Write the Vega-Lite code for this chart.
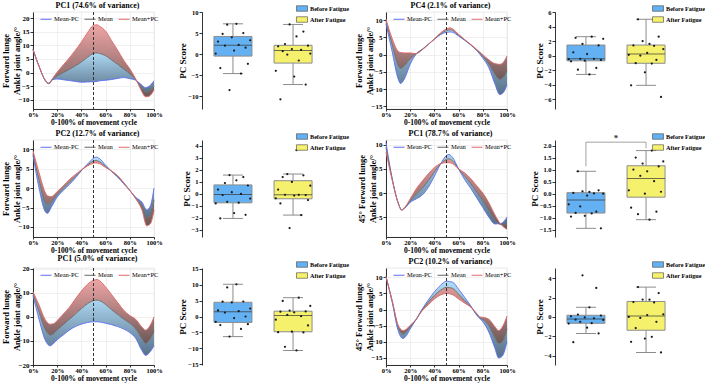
{
  "$schema": "https://vega.github.io/schema/vega-lite/v6.json",
  "background": "white",
  "padding": {"left": 0, "top": 1, "right": 0, "bottom": 0},
  "config": {
    "font": "Liberation Serif",
    "view": {"stroke": null},
    "title": {"font": "Liberation Serif", "fontSize": 8, "fontWeight": "bold", "color": "#000", "offset": 2, "dx": 4},
    "axis": {
      "labelFont": "Liberation Serif", "titleFont": "Liberation Serif",
      "labelFontWeight": "bold", "titleFontWeight": "bold",
      "labelFontSize": 7, "labelColor": "#000", "titleColor": "#000",
      "domainColor": "#000", "domainWidth": 0.8, "tickColor": "#000", "tickWidth": 0.8,
      "tickSize": 3, "labelPadding": 1, "labelOverlap": false, "labelFlush": false
    },
    "axisX": {"tickSize": 2, "labelPadding": 0, "titlePadding": 1, "labelFontSize": 6.5}
  },
  "datasets": {
    "A": [
      {"x": 0, "Mean-PC": 8.5, "Mean": 8.5, "Mean+PC": 8.5},
      {"x": 5, "Mean-PC": 2.3, "Mean": 2.3, "Mean+PC": 2.3},
      {"x": 10, "Mean-PC": -2.8, "Mean": -2.8, "Mean+PC": -2.6},
      {"x": 13, "Mean-PC": -4.0, "Mean": -4.0, "Mean+PC": -3.8},
      {"x": 16, "Mean-PC": -2.6, "Mean": -2.6, "Mean+PC": -2.2},
      {"x": 20, "Mean-PC": -2.3, "Mean": -1.2, "Mean+PC": 0.2},
      {"x": 25, "Mean-PC": -2.6, "Mean": 0.0, "Mean+PC": 2.8},
      {"x": 30, "Mean-PC": -2.9, "Mean": 1.2, "Mean+PC": 5.4},
      {"x": 35, "Mean-PC": -3.2, "Mean": 2.5, "Mean+PC": 8.2},
      {"x": 40, "Mean-PC": -3.5, "Mean": 3.9, "Mean+PC": 11.2},
      {"x": 45, "Mean-PC": -3.4, "Mean": 5.6, "Mean+PC": 14.6},
      {"x": 50, "Mean-PC": -3.3, "Mean": 7.0, "Mean+PC": 17.3},
      {"x": 53, "Mean-PC": -3.2, "Mean": 7.2, "Mean+PC": 17.5},
      {"x": 55, "Mean-PC": -3.0, "Mean": 7.0, "Mean+PC": 17.0},
      {"x": 60, "Mean-PC": -2.8, "Mean": 6.2, "Mean+PC": 15.2},
      {"x": 65, "Mean-PC": -2.5, "Mean": 4.6, "Mean+PC": 11.7},
      {"x": 70, "Mean-PC": -2.1, "Mean": 3.0, "Mean+PC": 8.2},
      {"x": 75, "Mean-PC": -1.8, "Mean": 1.3, "Mean+PC": 4.5},
      {"x": 80, "Mean-PC": -2.2, "Mean": -0.4, "Mean+PC": 1.4},
      {"x": 85, "Mean-PC": -2.8, "Mean": -2.6, "Mean+PC": -2.4},
      {"x": 88, "Mean-PC": -3.8, "Mean": -4.5, "Mean+PC": -5.2},
      {"x": 90, "Mean-PC": -4.6, "Mean": -5.8, "Mean+PC": -7.0},
      {"x": 93, "Mean-PC": -5.5, "Mean": -7.1, "Mean+PC": -8.8},
      {"x": 96, "Mean-PC": -5.0, "Mean": -6.8, "Mean+PC": -8.6},
      {"x": 100, "Mean-PC": -3.0, "Mean": -5.0, "Mean+PC": -6.3}
    ],
    "B": [
      {"x": 0, "Mean-PC": 9.0, "Mean": 9.8, "Mean+PC": 10.3},
      {"x": 5, "Mean-PC": 1.0, "Mean": 3.0, "Mean+PC": 4.8},
      {"x": 10, "Mean-PC": -7.0, "Mean": -3.0, "Mean+PC": 1.0},
      {"x": 12, "Mean-PC": -8.4, "Mean": -4.0, "Mean+PC": 0.6},
      {"x": 15, "Mean-PC": -7.2, "Mean": -3.3, "Mean+PC": 0.5},
      {"x": 20, "Mean-PC": -2.8, "Mean": -1.2, "Mean+PC": 0.5},
      {"x": 25, "Mean-PC": 0.2, "Mean": 0.3, "Mean+PC": 0.3},
      {"x": 30, "Mean-PC": 1.6, "Mean": 1.5, "Mean+PC": 1.4},
      {"x": 35, "Mean-PC": 3.0, "Mean": 3.0, "Mean+PC": 3.0},
      {"x": 40, "Mean-PC": 4.5, "Mean": 4.5, "Mean+PC": 4.6},
      {"x": 45, "Mean-PC": 5.8, "Mean": 6.0, "Mean+PC": 6.3},
      {"x": 50, "Mean-PC": 6.5, "Mean": 7.0, "Mean+PC": 7.5},
      {"x": 53, "Mean-PC": 6.6, "Mean": 7.2, "Mean+PC": 7.8},
      {"x": 55, "Mean-PC": 6.5, "Mean": 7.0, "Mean+PC": 7.5},
      {"x": 60, "Mean-PC": 5.4, "Mean": 5.6, "Mean+PC": 5.9},
      {"x": 65, "Mean-PC": 4.2, "Mean": 4.3, "Mean+PC": 4.4},
      {"x": 70, "Mean-PC": 2.8, "Mean": 2.9, "Mean+PC": 3.0},
      {"x": 75, "Mean-PC": 1.2, "Mean": 1.3, "Mean+PC": 1.5},
      {"x": 80, "Mean-PC": -1.0, "Mean": -0.5, "Mean+PC": 0.0},
      {"x": 85, "Mean-PC": -3.8, "Mean": -2.7, "Mean+PC": -1.5},
      {"x": 90, "Mean-PC": -8.5, "Mean": -5.6, "Mean+PC": -2.6},
      {"x": 94, "Mean-PC": -11.6, "Mean": -7.2, "Mean+PC": -2.8},
      {"x": 97, "Mean-PC": -11.0, "Mean": -6.6, "Mean+PC": -2.2},
      {"x": 100, "Mean-PC": -8.8, "Mean": -4.6, "Mean+PC": -0.4}
    ],
    "C": [
      {"x": 0, "Mean-PC": 8.5, "Mean": 9.0, "Mean+PC": 9.6},
      {"x": 5, "Mean-PC": 0.0, "Mean": 2.0, "Mean+PC": 4.0},
      {"x": 10, "Mean-PC": -6.0, "Mean": -3.5, "Mean+PC": -1.0},
      {"x": 12, "Mean-PC": -6.5, "Mean": -4.2, "Mean+PC": -2.0},
      {"x": 15, "Mean-PC": -5.0, "Mean": -3.6, "Mean+PC": -2.2},
      {"x": 20, "Mean-PC": -2.3, "Mean": -1.6, "Mean+PC": -0.9},
      {"x": 25, "Mean-PC": -0.6, "Mean": 0.0, "Mean+PC": 0.6},
      {"x": 30, "Mean-PC": 0.9, "Mean": 1.5, "Mean+PC": 2.2},
      {"x": 35, "Mean-PC": 2.6, "Mean": 3.0, "Mean+PC": 3.5},
      {"x": 40, "Mean-PC": 4.5, "Mean": 4.6, "Mean+PC": 4.7},
      {"x": 45, "Mean-PC": 6.2, "Mean": 5.9, "Mean+PC": 5.7},
      {"x": 50, "Mean-PC": 7.7, "Mean": 7.0, "Mean+PC": 6.4},
      {"x": 52, "Mean-PC": 8.0, "Mean": 7.1, "Mean+PC": 6.5},
      {"x": 55, "Mean-PC": 7.6, "Mean": 6.8, "Mean+PC": 6.3},
      {"x": 60, "Mean-PC": 5.9, "Mean": 5.6, "Mean+PC": 5.3},
      {"x": 65, "Mean-PC": 4.3, "Mean": 4.3, "Mean+PC": 4.4},
      {"x": 70, "Mean-PC": 2.8, "Mean": 3.0, "Mean+PC": 3.2},
      {"x": 75, "Mean-PC": 1.1, "Mean": 1.3, "Mean+PC": 1.4},
      {"x": 80, "Mean-PC": -0.6, "Mean": -0.6, "Mean+PC": -0.6},
      {"x": 85, "Mean-PC": -2.4, "Mean": -2.6, "Mean+PC": -2.8},
      {"x": 90, "Mean-PC": -3.6, "Mean": -4.6, "Mean+PC": -5.6},
      {"x": 94, "Mean-PC": -5.6, "Mean": -7.6, "Mean+PC": -9.7},
      {"x": 97, "Mean-PC": -4.6, "Mean": -7.0, "Mean+PC": -9.2},
      {"x": 100, "Mean-PC": 0.0, "Mean": -3.0, "Mean+PC": -5.8}
    ],
    "D": [
      {"x": 0, "Mean-PC": 10.5, "Mean": 9.5, "Mean+PC": 8.5},
      {"x": 5, "Mean-PC": 3.2, "Mean": 3.0, "Mean+PC": 2.8},
      {"x": 10, "Mean-PC": -2.0, "Mean": -2.0, "Mean+PC": -2.0},
      {"x": 13, "Mean-PC": -3.5, "Mean": -3.5, "Mean+PC": -3.5},
      {"x": 16, "Mean-PC": -3.0, "Mean": -2.9, "Mean+PC": -2.8},
      {"x": 20, "Mean-PC": -1.9, "Mean": -1.6, "Mean+PC": -1.2},
      {"x": 25, "Mean-PC": -1.2, "Mean": -0.2, "Mean+PC": 0.9},
      {"x": 30, "Mean-PC": -0.4, "Mean": 1.0, "Mean+PC": 2.5},
      {"x": 35, "Mean-PC": 1.2, "Mean": 2.6, "Mean+PC": 4.0},
      {"x": 40, "Mean-PC": 3.5, "Mean": 4.4, "Mean+PC": 5.3},
      {"x": 45, "Mean-PC": 6.0, "Mean": 6.0, "Mean+PC": 6.1},
      {"x": 50, "Mean-PC": 7.8, "Mean": 7.0, "Mean+PC": 6.3},
      {"x": 52, "Mean-PC": 8.0, "Mean": 7.1, "Mean+PC": 6.3},
      {"x": 55, "Mean-PC": 7.4, "Mean": 6.7, "Mean+PC": 6.1},
      {"x": 60, "Mean-PC": 5.0, "Mean": 5.0, "Mean+PC": 5.0},
      {"x": 65, "Mean-PC": 2.8, "Mean": 3.5, "Mean+PC": 4.2},
      {"x": 70, "Mean-PC": 1.0, "Mean": 2.0, "Mean+PC": 3.0},
      {"x": 75, "Mean-PC": -1.0, "Mean": 0.2, "Mean+PC": 1.5},
      {"x": 80, "Mean-PC": -3.0, "Mean": -1.5, "Mean+PC": 0.0},
      {"x": 85, "Mean-PC": -5.0, "Mean": -3.5, "Mean+PC": -2.0},
      {"x": 90, "Mean-PC": -6.4, "Mean": -5.5, "Mean+PC": -4.5},
      {"x": 95, "Mean-PC": -6.3, "Mean": -6.5, "Mean+PC": -6.5},
      {"x": 100, "Mean-PC": -5.0, "Mean": -6.5, "Mean+PC": -7.5}
    ],
    "E": [
      {"x": 0, "Mean-PC": 9.0, "Mean": 10.0, "Mean+PC": 10.5},
      {"x": 5, "Mean-PC": -1.0, "Mean": 2.0, "Mean+PC": 5.0},
      {"x": 10, "Mean-PC": -9.5, "Mean": -5.0, "Mean+PC": -1.0},
      {"x": 14, "Mean-PC": -12.0, "Mean": -7.5, "Mean+PC": -3.0},
      {"x": 17, "Mean-PC": -11.0, "Mean": -7.0, "Mean+PC": -2.8},
      {"x": 20, "Mean-PC": -9.5, "Mean": -5.5, "Mean+PC": -1.5},
      {"x": 25, "Mean-PC": -7.5, "Mean": -3.2, "Mean+PC": 1.2},
      {"x": 30, "Mean-PC": -5.5, "Mean": -1.0, "Mean+PC": 4.0},
      {"x": 35, "Mean-PC": -4.0, "Mean": 1.2, "Mean+PC": 7.5},
      {"x": 40, "Mean-PC": -3.0, "Mean": 3.5, "Mean+PC": 10.8},
      {"x": 45, "Mean-PC": -2.3, "Mean": 5.5, "Mean+PC": 13.6},
      {"x": 50, "Mean-PC": -2.0, "Mean": 6.8, "Mean+PC": 15.3},
      {"x": 53, "Mean-PC": -2.0, "Mean": 7.0, "Mean+PC": 15.6},
      {"x": 55, "Mean-PC": -2.1, "Mean": 6.8, "Mean+PC": 15.1},
      {"x": 60, "Mean-PC": -2.6, "Mean": 5.2, "Mean+PC": 12.5},
      {"x": 65, "Mean-PC": -3.2, "Mean": 3.0, "Mean+PC": 9.3},
      {"x": 70, "Mean-PC": -4.0, "Mean": 1.0, "Mean+PC": 6.0},
      {"x": 75, "Mean-PC": -5.0, "Mean": -0.9, "Mean+PC": 2.8},
      {"x": 80, "Mean-PC": -6.5, "Mean": -2.6, "Mean+PC": 0.6},
      {"x": 85, "Mean-PC": -9.0, "Mean": -5.0, "Mean+PC": -1.0},
      {"x": 90, "Mean-PC": -14.0, "Mean": -9.0, "Mean+PC": -4.2},
      {"x": 93, "Mean-PC": -16.0, "Mean": -11.0, "Mean+PC": -5.5},
      {"x": 96, "Mean-PC": -15.0, "Mean": -9.8, "Mean+PC": -4.2},
      {"x": 100, "Mean-PC": -12.0, "Mean": -6.0, "Mean+PC": 0.0}
    ],
    "F": [
      {"x": 0, "Mean-PC": 10.2, "Mean": 10.2, "Mean+PC": 10.2},
      {"x": 5, "Mean-PC": 2.5, "Mean": 2.8, "Mean+PC": 3.0},
      {"x": 10, "Mean-PC": -6.5, "Mean": -5.3, "Mean+PC": -4.8},
      {"x": 14, "Mean-PC": -9.0, "Mean": -7.6, "Mean+PC": -6.5},
      {"x": 17, "Mean-PC": -8.0, "Mean": -6.8, "Mean+PC": -6.0},
      {"x": 20, "Mean-PC": -6.0, "Mean": -5.4, "Mean+PC": -4.9},
      {"x": 25, "Mean-PC": -3.0, "Mean": -3.0, "Mean+PC": -3.0},
      {"x": 30, "Mean-PC": 0.2, "Mean": 0.0, "Mean+PC": -0.3},
      {"x": 35, "Mean-PC": 3.0, "Mean": 2.3, "Mean+PC": 1.5},
      {"x": 40, "Mean-PC": 5.5, "Mean": 4.4, "Mean+PC": 3.3},
      {"x": 45, "Mean-PC": 7.5, "Mean": 6.0, "Mean+PC": 4.5},
      {"x": 50, "Mean-PC": 8.8, "Mean": 6.9, "Mean+PC": 5.0},
      {"x": 55, "Mean-PC": 8.5, "Mean": 6.6, "Mean+PC": 4.6},
      {"x": 60, "Mean-PC": 6.3, "Mean": 4.8, "Mean+PC": 3.3},
      {"x": 65, "Mean-PC": 3.8, "Mean": 2.8, "Mean+PC": 2.0},
      {"x": 70, "Mean-PC": 1.2, "Mean": 1.0, "Mean+PC": 0.8},
      {"x": 75, "Mean-PC": -1.8, "Mean": -1.5, "Mean+PC": -1.2},
      {"x": 78, "Mean-PC": -3.0, "Mean": -2.6, "Mean+PC": -2.3},
      {"x": 80, "Mean-PC": -3.8, "Mean": -3.1, "Mean+PC": -2.4},
      {"x": 85, "Mean-PC": -7.0, "Mean": -5.0, "Mean+PC": -3.0},
      {"x": 90, "Mean-PC": -12.0, "Mean": -8.7, "Mean+PC": -5.3},
      {"x": 93, "Mean-PC": -15.0, "Mean": -10.6, "Mean+PC": -6.5},
      {"x": 96, "Mean-PC": -14.5, "Mean": -10.0, "Mean+PC": -5.5},
      {"x": 100, "Mean-PC": -10.0, "Mean": -6.0, "Mean+PC": -2.0}
    ],
    "scores": [
      {"p": "b1", "g": "Before Fatigue", "s": "07", "v": -8.5},
      {"p": "b1", "g": "Before Fatigue", "s": "12", "v": -4.6},
      {"p": "b1", "g": "Before Fatigue", "s": "03", "v": -3.3},
      {"p": "b1", "g": "Before Fatigue", "s": "15", "v": -2.3},
      {"p": "b1", "g": "Before Fatigue", "s": "01", "v": 0.15},
      {"p": "b1", "g": "Before Fatigue", "s": "09", "v": 0.85},
      {"p": "b1", "g": "Before Fatigue", "s": "14", "v": 1.55},
      {"p": "b1", "g": "Before Fatigue", "s": "05", "v": 2.0},
      {"p": "b1", "g": "Before Fatigue", "s": "11", "v": 2.2},
      {"p": "b1", "g": "Before Fatigue", "s": "02", "v": 3.0},
      {"p": "b1", "g": "Before Fatigue", "s": "16", "v": 3.3},
      {"p": "b1", "g": "Before Fatigue", "s": "08", "v": 4.0},
      {"p": "b1", "g": "Before Fatigue", "s": "04", "v": 4.8},
      {"p": "b1", "g": "Before Fatigue", "s": "13", "v": 5.0},
      {"p": "b1", "g": "Before Fatigue", "s": "06", "v": 7.0},
      {"p": "b1", "g": "Before Fatigue", "s": "10", "v": 7.2},
      {"p": "b1", "g": "After Fatigue", "s": "03", "v": -10.7},
      {"p": "b1", "g": "After Fatigue", "s": "14", "v": -7.2},
      {"p": "b1", "g": "After Fatigue", "s": "09", "v": -5.3},
      {"p": "b1", "g": "After Fatigue", "s": "01", "v": -3.95},
      {"p": "b1", "g": "After Fatigue", "s": "11", "v": -1.5},
      {"p": "b1", "g": "After Fatigue", "s": "06", "v": -0.1},
      {"p": "b1", "g": "After Fatigue", "s": "16", "v": 0.15},
      {"p": "b1", "g": "After Fatigue", "s": "04", "v": 0.7},
      {"p": "b1", "g": "After Fatigue", "s": "12", "v": 1.0},
      {"p": "b1", "g": "After Fatigue", "s": "08", "v": 1.2},
      {"p": "b1", "g": "After Fatigue", "s": "02", "v": 1.85},
      {"p": "b1", "g": "After Fatigue", "s": "15", "v": 2.0},
      {"p": "b1", "g": "After Fatigue", "s": "05", "v": 2.4},
      {"p": "b1", "g": "After Fatigue", "s": "10", "v": 4.2},
      {"p": "b1", "g": "After Fatigue", "s": "13", "v": 5.35},
      {"p": "b1", "g": "After Fatigue", "s": "07", "v": 7.05},
      {"p": "b2", "g": "Before Fatigue", "s": "10", "v": -2.6},
      {"p": "b2", "g": "Before Fatigue", "s": "05", "v": -1.95},
      {"p": "b2", "g": "Before Fatigue", "s": "13", "v": -1.7},
      {"p": "b2", "g": "Before Fatigue", "s": "02", "v": -0.8},
      {"p": "b2", "g": "Before Fatigue", "s": "08", "v": -0.7},
      {"p": "b2", "g": "Before Fatigue", "s": "15", "v": -0.6},
      {"p": "b2", "g": "Before Fatigue", "s": "01", "v": -0.5},
      {"p": "b2", "g": "Before Fatigue", "s": "12", "v": -0.45},
      {"p": "b2", "g": "Before Fatigue", "s": "06", "v": -0.45},
      {"p": "b2", "g": "Before Fatigue", "s": "09", "v": 0.2},
      {"p": "b2", "g": "Before Fatigue", "s": "03", "v": 0.45},
      {"p": "b2", "g": "Before Fatigue", "s": "14", "v": 1.4},
      {"p": "b2", "g": "Before Fatigue", "s": "07", "v": 1.6},
      {"p": "b2", "g": "Before Fatigue", "s": "16", "v": 2.3},
      {"p": "b2", "g": "Before Fatigue", "s": "04", "v": 2.45},
      {"p": "b2", "g": "Before Fatigue", "s": "11", "v": 2.6},
      {"p": "b2", "g": "After Fatigue", "s": "15", "v": -5.7},
      {"p": "b2", "g": "After Fatigue", "s": "02", "v": -4.1},
      {"p": "b2", "g": "After Fatigue", "s": "08", "v": -2.3},
      {"p": "b2", "g": "After Fatigue", "s": "11", "v": -1.1},
      {"p": "b2", "g": "After Fatigue", "s": "04", "v": -1.05},
      {"p": "b2", "g": "After Fatigue", "s": "13", "v": -0.6},
      {"p": "b2", "g": "After Fatigue", "s": "06", "v": 0.0},
      {"p": "b2", "g": "After Fatigue", "s": "01", "v": 0.1},
      {"p": "b2", "g": "After Fatigue", "s": "09", "v": 0.36},
      {"p": "b2", "g": "After Fatigue", "s": "16", "v": 0.9},
      {"p": "b2", "g": "After Fatigue", "s": "12", "v": 1.35},
      {"p": "b2", "g": "After Fatigue", "s": "03", "v": 1.4},
      {"p": "b2", "g": "After Fatigue", "s": "10", "v": 1.6},
      {"p": "b2", "g": "After Fatigue", "s": "07", "v": 2.0},
      {"p": "b2", "g": "After Fatigue", "s": "14", "v": 2.6},
      {"p": "b2", "g": "After Fatigue", "s": "05", "v": 5.0},
      {"p": "b3", "g": "Before Fatigue", "s": "03", "v": -2.05},
      {"p": "b3", "g": "Before Fatigue", "s": "14", "v": -1.75},
      {"p": "b3", "g": "Before Fatigue", "s": "09", "v": -1.6},
      {"p": "b3", "g": "Before Fatigue", "s": "01", "v": -0.8},
      {"p": "b3", "g": "Before Fatigue", "s": "11", "v": -0.73},
      {"p": "b3", "g": "Before Fatigue", "s": "06", "v": -0.66},
      {"p": "b3", "g": "Before Fatigue", "s": "16", "v": -0.39},
      {"p": "b3", "g": "Before Fatigue", "s": "04", "v": -0.1},
      {"p": "b3", "g": "Before Fatigue", "s": "12", "v": 0.0},
      {"p": "b3", "g": "Before Fatigue", "s": "08", "v": 0.14},
      {"p": "b3", "g": "Before Fatigue", "s": "02", "v": 0.36},
      {"p": "b3", "g": "Before Fatigue", "s": "15", "v": 0.7},
      {"p": "b3", "g": "Before Fatigue", "s": "05", "v": 0.9},
      {"p": "b3", "g": "Before Fatigue", "s": "10", "v": 1.13},
      {"p": "b3", "g": "Before Fatigue", "s": "13", "v": 1.4},
      {"p": "b3", "g": "Before Fatigue", "s": "07", "v": 1.57},
      {"p": "b3", "g": "After Fatigue", "s": "07", "v": -2.85},
      {"p": "b3", "g": "After Fatigue", "s": "12", "v": -1.77},
      {"p": "b3", "g": "After Fatigue", "s": "03", "v": -0.8},
      {"p": "b3", "g": "After Fatigue", "s": "15", "v": -0.52},
      {"p": "b3", "g": "After Fatigue", "s": "01", "v": -0.37},
      {"p": "b3", "g": "After Fatigue", "s": "09", "v": -0.14},
      {"p": "b3", "g": "After Fatigue", "s": "14", "v": -0.1},
      {"p": "b3", "g": "After Fatigue", "s": "05", "v": -0.08},
      {"p": "b3", "g": "After Fatigue", "s": "11", "v": -0.08},
      {"p": "b3", "g": "After Fatigue", "s": "02", "v": 0.36},
      {"p": "b3", "g": "After Fatigue", "s": "16", "v": 0.69},
      {"p": "b3", "g": "After Fatigue", "s": "08", "v": 1.0},
      {"p": "b3", "g": "After Fatigue", "s": "04", "v": 1.4},
      {"p": "b3", "g": "After Fatigue", "s": "13", "v": 1.55},
      {"p": "b3", "g": "After Fatigue", "s": "06", "v": 1.66},
      {"p": "b3", "g": "After Fatigue", "s": "10", "v": 3.65},
      {"p": "b4", "g": "Before Fatigue", "s": "15", "v": -1.44},
      {"p": "b4", "g": "Before Fatigue", "s": "02", "v": -0.95},
      {"p": "b4", "g": "Before Fatigue", "s": "08", "v": -0.92},
      {"p": "b4", "g": "Before Fatigue", "s": "11", "v": -0.82},
      {"p": "b4", "g": "Before Fatigue", "s": "04", "v": -0.8},
      {"p": "b4", "g": "Before Fatigue", "s": "13", "v": -0.75},
      {"p": "b4", "g": "Before Fatigue", "s": "06", "v": -0.53},
      {"p": "b4", "g": "Before Fatigue", "s": "01", "v": -0.44},
      {"p": "b4", "g": "Before Fatigue", "s": "09", "v": -0.08},
      {"p": "b4", "g": "Before Fatigue", "s": "16", "v": 0.0},
      {"p": "b4", "g": "Before Fatigue", "s": "12", "v": 0.01},
      {"p": "b4", "g": "Before Fatigue", "s": "03", "v": 0.03},
      {"p": "b4", "g": "Before Fatigue", "s": "10", "v": 0.07},
      {"p": "b4", "g": "Before Fatigue", "s": "07", "v": 0.1},
      {"p": "b4", "g": "Before Fatigue", "s": "14", "v": 0.14},
      {"p": "b4", "g": "Before Fatigue", "s": "05", "v": 0.93},
      {"p": "b4", "g": "After Fatigue", "s": "10", "v": -1.08},
      {"p": "b4", "g": "After Fatigue", "s": "05", "v": -0.85},
      {"p": "b4", "g": "After Fatigue", "s": "13", "v": -0.75},
      {"p": "b4", "g": "After Fatigue", "s": "02", "v": -0.58},
      {"p": "b4", "g": "After Fatigue", "s": "08", "v": 0.0},
      {"p": "b4", "g": "After Fatigue", "s": "15", "v": 0.08},
      {"p": "b4", "g": "After Fatigue", "s": "01", "v": 0.14},
      {"p": "b4", "g": "After Fatigue", "s": "12", "v": 0.52},
      {"p": "b4", "g": "After Fatigue", "s": "06", "v": 0.74},
      {"p": "b4", "g": "After Fatigue", "s": "09", "v": 0.93},
      {"p": "b4", "g": "After Fatigue", "s": "03", "v": 1.0},
      {"p": "b4", "g": "After Fatigue", "s": "14", "v": 1.13},
      {"p": "b4", "g": "After Fatigue", "s": "07", "v": 1.25},
      {"p": "b4", "g": "After Fatigue", "s": "16", "v": 1.34},
      {"p": "b4", "g": "After Fatigue", "s": "04", "v": 1.5},
      {"p": "b4", "g": "After Fatigue", "s": "11", "v": 1.79},
      {"p": "b5", "g": "Before Fatigue", "s": "07", "v": -6.3},
      {"p": "b5", "g": "Before Fatigue", "s": "12", "v": -3.9},
      {"p": "b5", "g": "Before Fatigue", "s": "03", "v": -2.7},
      {"p": "b5", "g": "Before Fatigue", "s": "15", "v": -2.4},
      {"p": "b5", "g": "Before Fatigue", "s": "01", "v": -1.68},
      {"p": "b5", "g": "Before Fatigue", "s": "09", "v": -0.5},
      {"p": "b5", "g": "Before Fatigue", "s": "14", "v": 0.0},
      {"p": "b5", "g": "Before Fatigue", "s": "05", "v": 1.24},
      {"p": "b5", "g": "Before Fatigue", "s": "11", "v": 1.66},
      {"p": "b5", "g": "Before Fatigue", "s": "02", "v": 1.9},
      {"p": "b5", "g": "Before Fatigue", "s": "16", "v": 2.5},
      {"p": "b5", "g": "Before Fatigue", "s": "08", "v": 4.4},
      {"p": "b5", "g": "Before Fatigue", "s": "04", "v": 4.65},
      {"p": "b5", "g": "Before Fatigue", "s": "13", "v": 4.7},
      {"p": "b5", "g": "Before Fatigue", "s": "06", "v": 9.1},
      {"p": "b5", "g": "Before Fatigue", "s": "10", "v": 10.1},
      {"p": "b5", "g": "After Fatigue", "s": "10", "v": -10.65},
      {"p": "b5", "g": "After Fatigue", "s": "05", "v": -9.5},
      {"p": "b5", "g": "After Fatigue", "s": "13", "v": -5.0},
      {"p": "b5", "g": "After Fatigue", "s": "02", "v": -4.9},
      {"p": "b5", "g": "After Fatigue", "s": "08", "v": -4.75},
      {"p": "b5", "g": "After Fatigue", "s": "15", "v": -2.8},
      {"p": "b5", "g": "After Fatigue", "s": "01", "v": -1.0},
      {"p": "b5", "g": "After Fatigue", "s": "12", "v": 0.1},
      {"p": "b5", "g": "After Fatigue", "s": "06", "v": 0.5},
      {"p": "b5", "g": "After Fatigue", "s": "09", "v": 1.3},
      {"p": "b5", "g": "After Fatigue", "s": "03", "v": 1.5},
      {"p": "b5", "g": "After Fatigue", "s": "14", "v": 1.6},
      {"p": "b5", "g": "After Fatigue", "s": "07", "v": 1.85},
      {"p": "b5", "g": "After Fatigue", "s": "16", "v": 3.3},
      {"p": "b5", "g": "After Fatigue", "s": "04", "v": 4.86},
      {"p": "b5", "g": "After Fatigue", "s": "11", "v": 5.9},
      {"p": "b6", "g": "Before Fatigue", "s": "03", "v": -2.6},
      {"p": "b6", "g": "Before Fatigue", "s": "14", "v": -1.7},
      {"p": "b6", "g": "Before Fatigue", "s": "09", "v": -1.1},
      {"p": "b6", "g": "Before Fatigue", "s": "01", "v": -0.68},
      {"p": "b6", "g": "Before Fatigue", "s": "11", "v": -0.64},
      {"p": "b6", "g": "Before Fatigue", "s": "06", "v": -0.5},
      {"p": "b6", "g": "Before Fatigue", "s": "16", "v": -0.3},
      {"p": "b6", "g": "Before Fatigue", "s": "04", "v": -0.27},
      {"p": "b6", "g": "Before Fatigue", "s": "12", "v": -0.13},
      {"p": "b6", "g": "Before Fatigue", "s": "08", "v": -0.05},
      {"p": "b6", "g": "Before Fatigue", "s": "02", "v": 0.07},
      {"p": "b6", "g": "Before Fatigue", "s": "15", "v": 0.15},
      {"p": "b6", "g": "Before Fatigue", "s": "05", "v": 0.25},
      {"p": "b6", "g": "Before Fatigue", "s": "10", "v": 1.0},
      {"p": "b6", "g": "Before Fatigue", "s": "13", "v": 3.0},
      {"p": "b6", "g": "Before Fatigue", "s": "07", "v": 4.3},
      {"p": "b6", "g": "After Fatigue", "s": "15", "v": -3.66},
      {"p": "b6", "g": "After Fatigue", "s": "02", "v": -2.56},
      {"p": "b6", "g": "After Fatigue", "s": "08", "v": -2.22},
      {"p": "b6", "g": "After Fatigue", "s": "11", "v": -2.05},
      {"p": "b6", "g": "After Fatigue", "s": "04", "v": -1.14},
      {"p": "b6", "g": "After Fatigue", "s": "13", "v": -0.5},
      {"p": "b6", "g": "After Fatigue", "s": "06", "v": -0.1},
      {"p": "b6", "g": "After Fatigue", "s": "01", "v": 0.0},
      {"p": "b6", "g": "After Fatigue", "s": "09", "v": 0.2},
      {"p": "b6", "g": "After Fatigue", "s": "16", "v": 0.27},
      {"p": "b6", "g": "After Fatigue", "s": "12", "v": 1.5},
      {"p": "b6", "g": "After Fatigue", "s": "03", "v": 1.54},
      {"p": "b6", "g": "After Fatigue", "s": "10", "v": 1.78},
      {"p": "b6", "g": "After Fatigue", "s": "07", "v": 1.8},
      {"p": "b6", "g": "After Fatigue", "s": "14", "v": 2.46},
      {"p": "b6", "g": "After Fatigue", "s": "05", "v": 3.08}
    ]
  },
  "columns": 4,
  "spacing": {"row": 31, "column": 48},
  "bounds": "flush",
  "resolve": {"scale": {"x": "independent", "y": "independent", "color": "independent"}, "legend": {"color": "independent"}},
  "concat": [
    {
      "width": 121, "height": 97,
      "data": {"name": "A"},
      "title": {"text": "PC1  (74.6% of variance)"},
      "view": {"stroke": "#d9d9d9", "strokeWidth": 0.6},
      "encoding": {"x": {"field": "x", "type": "quantitative", "scale": {"domain": [0, 100], "nice": false, "zero": false},
        "axis": {"values": [0, 20, 40, 60, 80, 100], "tickCount": 20, "labelExpr": "datum.value + '%'", "title": "0-100% of movement cycle", "titleFontSize": 7.5, "grid": true, "gridColor": "#e6e6e6", "gridWidth": 0.6}}},
      "layer": [
        {"mark": {"type": "area", "interpolate": "monotone", "color": {"gradient": "linear", "x1": 0, "y1": 0, "x2": 0, "y2": 1, "stops": [{"offset": 0, "color": "#eea5a5"}, {"offset": 1, "color": "#6e5858"}]}},
         "encoding": {"y": {"field": "Mean", "type": "quantitative", "scale": {"domain": [-13.3, 22.2], "nice": false, "zero": false},
           "axis": {"values": [-10, -5, 0, 5, 10, 15, 20], "tickCount": 20, "format": "d", "title": ["Forward lunge", "Ankle joint angle/°"], "titleFontSize": 8.5, "titleLineHeight": 11, "titlePadding": -3, "grid": true, "gridColor": "#e6e6e6", "gridWidth": 0.6}},
           "y2": {"field": "Mean+PC"}}},
        {"mark": {"type": "area", "interpolate": "monotone", "color": {"gradient": "linear", "x1": 0, "y1": 0, "x2": 0, "y2": 1, "stops": [{"offset": 0, "color": "#b5e3fc"}, {"offset": 1, "color": "#58708a"}]}},
         "encoding": {"y": {"field": "Mean-PC", "type": "quantitative", "scale": {"domain": [-13.3, 22.2], "nice": false, "zero": false}}, "y2": {"field": "Mean"}}},
        {"transform": [{"fold": ["Mean-PC", "Mean", "Mean+PC"], "as": ["series", "val"]}],
         "mark": {"type": "line", "interpolate": "monotone", "strokeWidth": 0.9},
         "encoding": {"y": {"field": "val", "type": "quantitative", "scale": {"domain": [-13.3, 22.2], "nice": false, "zero": false}},
           "color": {"field": "series", "type": "nominal", "scale": {"domain": ["Mean-PC", "Mean", "Mean+PC"], "range": ["#5d6ef2", "#666666", "#e26868"]},
             "legend": {"orient": "none", "legendX": 7, "legendY": 1, "direction": "horizontal", "title": null, "symbolType": "stroke", "symbolSize": 121, "symbolStrokeWidth": 1, "labelFont": "Liberation Serif", "labelFontSize": 6.5, "labelOffset": 2, "columnPadding": 3}}}},
        {"mark": {"type": "rule", "strokeDash": [3, 2], "color": "#333333", "strokeWidth": 0.8}, "encoding": {"x": {"datum": 50}}}
      ]
    },
    {
      "width": 136, "height": 97,
      "data": {"name": "scores"},
      "layer": [
        {"transform": [{"filter": "datum.p == 'b1'"}],
         "mark": {"type": "boxplot", "extent": 1.5, "size": 38, "outliers": false, "box": {"stroke": "#8c8c8c", "strokeWidth": 1}, "median": {"color": "#333333", "strokeWidth": 1}, "rule": {"color": "#8c8c8c"}, "ticks": {"color": "#8c8c8c", "size": 20}},
         "encoding": {
           "x": {"field": "g", "type": "nominal", "scale": {"domain": ["Before Fatigue", "After Fatigue"], "range": [0, 122], "paddingInner": 0.35, "paddingOuter": 0.19}, "axis": null},
           "y": {"field": "v", "type": "quantitative", "scale": {"domain": [-13, 10], "nice": false, "zero": false}, "axis": {"values": [-10, -5, 0, 5, 10], "tickCount": 20, "format": "d", "title": "PC Score", "titleFontSize": 9, "titlePadding": 0, "labelFontSize": 6.5, "grid": false}},
           "color": {"field": "g", "type": "nominal", "scale": {"domain": ["Before Fatigue", "After Fatigue"], "range": ["#63b1f3", "#f6f16c"]},
             "legend": {"orient": "none", "legendX": 94, "legendY": -9.5, "title": null, "symbolType": "M-1,-0.5H1V0.5H-1Z", "symbolSize": 121, "symbolStrokeColor": "#444444", "symbolStrokeWidth": 0.6, "symbolOpacity": 1, "labelFont": "Liberation Serif", "labelFontSize": 6.2, "labelFontWeight": "bold", "labelOffset": 2, "rowPadding": 1}}}},
        {"transform": [{"filter": "datum.p == 'b1'"}],
         "mark": {"type": "point", "filled": true, "size": 5, "color": "#1a1a1a", "opacity": 1},
         "encoding": {"x": {"field": "g", "type": "nominal"}, "xOffset": {"field": "s", "type": "nominal", "scale": {"type": "point", "padding": 10.7}},
           "y": {"field": "v", "type": "quantitative", "scale": {"domain": [-13, 10], "nice": false, "zero": false}}}}
      ]
    },
    {
      "width": 121, "height": 97,
      "data": {"name": "B"},
      "title": {"text": "PC4  (2.1% of variance)"},
      "view": {"stroke": "#d9d9d9", "strokeWidth": 0.6},
      "encoding": {"x": {"field": "x", "type": "quantitative", "scale": {"domain": [0, 100], "nice": false, "zero": false},
        "axis": {"values": [0, 20, 40, 60, 80, 100], "tickCount": 20, "labelExpr": "datum.value + '%'", "title": "0-100% of movement cycle", "titleFontSize": 7.5, "grid": true, "gridColor": "#e6e6e6", "gridWidth": 0.6}}},
      "layer": [
        {"mark": {"type": "area", "interpolate": "monotone", "color": {"gradient": "linear", "x1": 0, "y1": 0, "x2": 0, "y2": 1, "stops": [{"offset": 0, "color": "#eea5a5"}, {"offset": 1, "color": "#6e5858"}]}},
         "encoding": {"y": {"field": "Mean", "type": "quantitative", "scale": {"domain": [-15.8, 12.4], "nice": false, "zero": false},
           "axis": {"values": [-15, -10, -5, 0, 5, 10], "tickCount": 20, "format": "d", "title": ["Forward lunge", "Ankle joint angle/°"], "titleFontSize": 8.5, "titleLineHeight": 11, "titlePadding": -3, "grid": true, "gridColor": "#e6e6e6", "gridWidth": 0.6}},
           "y2": {"field": "Mean+PC"}}},
        {"mark": {"type": "area", "interpolate": "monotone", "color": {"gradient": "linear", "x1": 0, "y1": 0, "x2": 0, "y2": 1, "stops": [{"offset": 0, "color": "#b5e3fc"}, {"offset": 1, "color": "#58708a"}]}},
         "encoding": {"y": {"field": "Mean-PC", "type": "quantitative", "scale": {"domain": [-15.8, 12.4], "nice": false, "zero": false}}, "y2": {"field": "Mean"}}},
        {"transform": [{"fold": ["Mean-PC", "Mean", "Mean+PC"], "as": ["series", "val"]}],
         "mark": {"type": "line", "interpolate": "monotone", "strokeWidth": 0.9},
         "encoding": {"y": {"field": "val", "type": "quantitative", "scale": {"domain": [-15.8, 12.4], "nice": false, "zero": false}},
           "color": {"field": "series", "type": "nominal", "scale": {"domain": ["Mean-PC", "Mean", "Mean+PC"], "range": ["#5d6ef2", "#666666", "#e26868"]},
             "legend": {"orient": "none", "legendX": 7, "legendY": 1, "direction": "horizontal", "title": null, "symbolType": "stroke", "symbolSize": 121, "symbolStrokeWidth": 1, "labelFont": "Liberation Serif", "labelFontSize": 6.5, "labelOffset": 2, "columnPadding": 3}}}},
        {"mark": {"type": "rule", "strokeDash": [3, 2], "color": "#333333", "strokeWidth": 0.8}, "encoding": {"x": {"datum": 50}}}
      ]
    },
    {
      "width": 136, "height": 97,
      "data": {"name": "scores"},
      "layer": [
        {"transform": [{"filter": "datum.p == 'b2'"}],
         "mark": {"type": "boxplot", "extent": 1.5, "size": 38, "outliers": false, "box": {"stroke": "#8c8c8c", "strokeWidth": 1}, "median": {"color": "#333333", "strokeWidth": 1}, "rule": {"color": "#8c8c8c"}, "ticks": {"color": "#8c8c8c", "size": 20}},
         "encoding": {
           "x": {"field": "g", "type": "nominal", "scale": {"domain": ["Before Fatigue", "After Fatigue"], "range": [0, 122], "paddingInner": 0.35, "paddingOuter": 0.19}, "axis": null},
           "y": {"field": "v", "type": "quantitative", "scale": {"domain": [-7.36, 6], "nice": false, "zero": false}, "axis": {"values": [-6, -4, -2, 0, 2, 4, 6], "tickCount": 20, "format": "d", "title": "PC Score", "titleFontSize": 9, "titlePadding": 0, "labelFontSize": 6.5, "grid": false}},
           "color": {"field": "g", "type": "nominal", "scale": {"domain": ["Before Fatigue", "After Fatigue"], "range": ["#63b1f3", "#f6f16c"]},
             "legend": {"orient": "none", "legendX": 97, "legendY": -9.5, "title": null, "symbolType": "M-1,-0.5H1V0.5H-1Z", "symbolSize": 121, "symbolStrokeColor": "#444444", "symbolStrokeWidth": 0.6, "symbolOpacity": 1, "labelFont": "Liberation Serif", "labelFontSize": 6.2, "labelFontWeight": "bold", "labelOffset": 2, "rowPadding": 1}}}},
        {"transform": [{"filter": "datum.p == 'b2'"}],
         "mark": {"type": "point", "filled": true, "size": 5, "color": "#1a1a1a", "opacity": 1},
         "encoding": {"x": {"field": "g", "type": "nominal"}, "xOffset": {"field": "s", "type": "nominal", "scale": {"type": "point", "padding": 10.7}},
           "y": {"field": "v", "type": "quantitative", "scale": {"domain": [-7.36, 6], "nice": false, "zero": false}}}}
      ]
    },
    {
      "width": 121, "height": 97,
      "data": {"name": "C"},
      "title": {"text": "PC2  (12.7% of variance)"},
      "view": {"stroke": "#d9d9d9", "strokeWidth": 0.6},
      "encoding": {"x": {"field": "x", "type": "quantitative", "scale": {"domain": [0, 100], "nice": false, "zero": false},
        "axis": {"values": [0, 20, 40, 60, 80, 100], "tickCount": 20, "labelExpr": "datum.value + '%'", "title": "0-100% of movement cycle", "titleFontSize": 7.5, "grid": true, "gridColor": "#e6e6e6", "gridWidth": 0.6}}},
      "layer": [
        {"mark": {"type": "area", "interpolate": "monotone", "color": {"gradient": "linear", "x1": 0, "y1": 0, "x2": 0, "y2": 1, "stops": [{"offset": 0, "color": "#eea5a5"}, {"offset": 1, "color": "#6e5858"}]}},
         "encoding": {"y": {"field": "Mean", "type": "quantitative", "scale": {"domain": [-12.6, 12.4], "nice": false, "zero": false},
           "axis": {"values": [-10, -5, 0, 5, 10], "tickCount": 20, "format": "d", "title": ["Forward lunge", "Ankle joint angle/°"], "titleFontSize": 8.5, "titleLineHeight": 11, "titlePadding": -3, "grid": true, "gridColor": "#e6e6e6", "gridWidth": 0.6}},
           "y2": {"field": "Mean+PC"}}},
        {"mark": {"type": "area", "interpolate": "monotone", "color": {"gradient": "linear", "x1": 0, "y1": 0, "x2": 0, "y2": 1, "stops": [{"offset": 0, "color": "#b5e3fc"}, {"offset": 1, "color": "#58708a"}]}},
         "encoding": {"y": {"field": "Mean-PC", "type": "quantitative", "scale": {"domain": [-12.6, 12.4], "nice": false, "zero": false}}, "y2": {"field": "Mean"}}},
        {"transform": [{"fold": ["Mean-PC", "Mean", "Mean+PC"], "as": ["series", "val"]}],
         "mark": {"type": "line", "interpolate": "monotone", "strokeWidth": 0.9},
         "encoding": {"y": {"field": "val", "type": "quantitative", "scale": {"domain": [-12.6, 12.4], "nice": false, "zero": false}},
           "color": {"field": "series", "type": "nominal", "scale": {"domain": ["Mean-PC", "Mean", "Mean+PC"], "range": ["#5d6ef2", "#666666", "#e26868"]},
             "legend": {"orient": "none", "legendX": 7, "legendY": 1, "direction": "horizontal", "title": null, "symbolType": "stroke", "symbolSize": 121, "symbolStrokeWidth": 1, "labelFont": "Liberation Serif", "labelFontSize": 6.5, "labelOffset": 2, "columnPadding": 3}}}},
        {"mark": {"type": "rule", "strokeDash": [3, 2], "color": "#333333", "strokeWidth": 0.8}, "encoding": {"x": {"datum": 50}}}
      ]
    },
    {
      "width": 136, "height": 97,
      "data": {"name": "scores"},
      "layer": [
        {"transform": [{"filter": "datum.p == 'b3'"}],
         "mark": {"type": "boxplot", "extent": 1.5, "size": 38, "outliers": false, "box": {"stroke": "#8c8c8c", "strokeWidth": 1}, "median": {"color": "#333333", "strokeWidth": 1}, "rule": {"color": "#8c8c8c"}, "ticks": {"color": "#8c8c8c", "size": 20}},
         "encoding": {
           "x": {"field": "g", "type": "nominal", "scale": {"domain": ["Before Fatigue", "After Fatigue"], "range": [0, 122], "paddingInner": 0.35, "paddingOuter": 0.19}, "axis": null},
           "y": {"field": "v", "type": "quantitative", "scale": {"domain": [-3.6, 4.5], "nice": false, "zero": false}, "axis": {"values": [-3, -2, -1, 0, 1, 2, 3, 4], "tickCount": 20, "format": "d", "title": "PC Score", "titleFontSize": 9, "titlePadding": 0, "labelFontSize": 6.5, "grid": false}},
           "color": {"field": "g", "type": "nominal", "scale": {"domain": ["Before Fatigue", "After Fatigue"], "range": ["#63b1f3", "#f6f16c"]},
             "legend": {"orient": "none", "legendX": 94, "legendY": -9.5, "title": null, "symbolType": "M-1,-0.5H1V0.5H-1Z", "symbolSize": 121, "symbolStrokeColor": "#444444", "symbolStrokeWidth": 0.6, "symbolOpacity": 1, "labelFont": "Liberation Serif", "labelFontSize": 6.2, "labelFontWeight": "bold", "labelOffset": 2, "rowPadding": 1}}}},
        {"transform": [{"filter": "datum.p == 'b3'"}],
         "mark": {"type": "point", "filled": true, "size": 5, "color": "#1a1a1a", "opacity": 1},
         "encoding": {"x": {"field": "g", "type": "nominal"}, "xOffset": {"field": "s", "type": "nominal", "scale": {"type": "point", "padding": 10.7}},
           "y": {"field": "v", "type": "quantitative", "scale": {"domain": [-3.6, 4.5], "nice": false, "zero": false}}}}
      ]
    },
    {
      "width": 121, "height": 97,
      "data": {"name": "D"},
      "title": {"text": "PC1  (78.7% of variance)"},
      "view": {"stroke": "#d9d9d9", "strokeWidth": 0.6},
      "encoding": {"x": {"field": "x", "type": "quantitative", "scale": {"domain": [0, 100], "nice": false, "zero": false},
        "axis": {"values": [0, 20, 40, 60, 80, 100], "tickCount": 20, "labelExpr": "datum.value + '%'", "title": "0-100% of movement cycle", "titleFontSize": 7.5, "grid": true, "gridColor": "#e6e6e6", "gridWidth": 0.6}}},
      "layer": [
        {"mark": {"type": "area", "interpolate": "monotone", "color": {"gradient": "linear", "x1": 0, "y1": 0, "x2": 0, "y2": 1, "stops": [{"offset": 0, "color": "#eea5a5"}, {"offset": 1, "color": "#6e5858"}]}},
         "encoding": {"y": {"field": "Mean", "type": "quantitative", "scale": {"domain": [-9.1, 11], "nice": false, "zero": false},
           "axis": {"values": [-5, 0, 5, 10], "tickCount": 20, "format": "d", "title": ["45° Forward lunge", "Ankle joint angle/°"], "titleFontSize": 8.5, "titleLineHeight": 11, "titlePadding": -3, "grid": true, "gridColor": "#e6e6e6", "gridWidth": 0.6}},
           "y2": {"field": "Mean+PC"}}},
        {"mark": {"type": "area", "interpolate": "monotone", "color": {"gradient": "linear", "x1": 0, "y1": 0, "x2": 0, "y2": 1, "stops": [{"offset": 0, "color": "#b5e3fc"}, {"offset": 1, "color": "#58708a"}]}},
         "encoding": {"y": {"field": "Mean-PC", "type": "quantitative", "scale": {"domain": [-9.1, 11], "nice": false, "zero": false}}, "y2": {"field": "Mean"}}},
        {"transform": [{"fold": ["Mean-PC", "Mean", "Mean+PC"], "as": ["series", "val"]}],
         "mark": {"type": "line", "interpolate": "monotone", "strokeWidth": 0.9},
         "encoding": {"y": {"field": "val", "type": "quantitative", "scale": {"domain": [-9.1, 11], "nice": false, "zero": false}},
           "color": {"field": "series", "type": "nominal", "scale": {"domain": ["Mean-PC", "Mean", "Mean+PC"], "range": ["#5d6ef2", "#666666", "#e26868"]},
             "legend": {"orient": "none", "legendX": 7, "legendY": 1, "direction": "horizontal", "title": null, "symbolType": "stroke", "symbolSize": 121, "symbolStrokeWidth": 1, "labelFont": "Liberation Serif", "labelFontSize": 6.5, "labelOffset": 2, "columnPadding": 3}}}},
        {"mark": {"type": "rule", "strokeDash": [3, 2], "color": "#333333", "strokeWidth": 0.8}, "encoding": {"x": {"datum": 50}}}
      ]
    },
    {
      "width": 136, "height": 97,
      "data": {"name": "scores"},
      "layer": [
        {"transform": [{"filter": "datum.p == 'b4'"}],
         "mark": {"type": "boxplot", "extent": 1.5, "size": 38, "outliers": false, "box": {"stroke": "#8c8c8c", "strokeWidth": 1}, "median": {"color": "#333333", "strokeWidth": 1}, "rule": {"color": "#8c8c8c"}, "ticks": {"color": "#8c8c8c", "size": 20}},
         "encoding": {
           "x": {"field": "g", "type": "nominal", "scale": {"domain": ["Before Fatigue", "After Fatigue"], "range": [0, 122], "paddingInner": 0.35, "paddingOuter": 0.19}, "axis": null},
           "y": {"field": "v", "type": "quantitative", "scale": {"domain": [-1.8, 2.23], "nice": false, "zero": false}, "axis": {"values": [-1.5, -1, -0.5, 0, 0.5, 1, 1.5, 2], "tickCount": 20, "format": ".1f", "title": "PC Score", "titleFontSize": 9, "titlePadding": 0, "labelFontSize": 6.5, "grid": false}},
           "color": {"field": "g", "type": "nominal", "scale": {"domain": ["Before Fatigue", "After Fatigue"], "range": ["#63b1f3", "#f6f16c"]},
             "legend": {"orient": "none", "legendX": 97, "legendY": -9.5, "title": null, "symbolType": "M-1,-0.5H1V0.5H-1Z", "symbolSize": 121, "symbolStrokeColor": "#444444", "symbolStrokeWidth": 0.6, "symbolOpacity": 1, "labelFont": "Liberation Serif", "labelFontSize": 6.2, "labelFontWeight": "bold", "labelOffset": 2, "rowPadding": 1}}}},
        {"transform": [{"filter": "datum.p == 'b4'"}],
         "mark": {"type": "point", "filled": true, "size": 5, "color": "#1a1a1a", "opacity": 1},
         "encoding": {"x": {"field": "g", "type": "nominal"}, "xOffset": {"field": "s", "type": "nominal", "scale": {"type": "point", "padding": 10.7}},
           "y": {"field": "v", "type": "quantitative", "scale": {"domain": [-1.8, 2.23], "nice": false, "zero": false}}}},
        {"data": {"values": [
           {"g": "Before Fatigue", "y": 1.14, "k": 1},
           {"g": "Before Fatigue", "y": 2.14, "k": 2},
           {"g": "After Fatigue", "y": 2.14, "k": 3},
           {"g": "After Fatigue", "y": 1.89, "k": 4}]},
         "mark": {"type": "line", "color": "#8c8c8c", "strokeWidth": 0.8},
         "encoding": {"x": {"field": "g", "type": "nominal"}, "y": {"field": "y", "type": "quantitative", "scale": {"domain": [-1.8, 2.23], "nice": false, "zero": false}}, "order": {"field": "k", "type": "quantitative"}}},
        {"data": {"values": [{"g": "Before Fatigue", "y": 2.3, "t": "*"}]},
         "mark": {"type": "text", "dx": 30, "fontSize": 9, "fontWeight": "bold", "font": "Liberation Serif", "color": "#333333"},
         "encoding": {"x": {"field": "g", "type": "nominal"}, "y": {"field": "y", "type": "quantitative", "scale": {"domain": [-1.8, 2.23], "nice": false, "zero": false}}, "text": {"field": "t"}}}
      ]
    },
    {
      "width": 121, "height": 97,
      "data": {"name": "E"},
      "title": {"text": "PC1  (5.0% of variance)"},
      "view": {"stroke": "#d9d9d9", "strokeWidth": 0.6},
      "encoding": {"x": {"field": "x", "type": "quantitative", "scale": {"domain": [0, 100], "nice": false, "zero": false},
        "axis": {"values": [0, 20, 40, 60, 80, 100], "tickCount": 20, "labelExpr": "datum.value + '%'", "title": "0-100% of movement cycle", "titleFontSize": 7.5, "grid": true, "gridColor": "#e6e6e6", "gridWidth": 0.6}}},
      "layer": [
        {"mark": {"type": "area", "interpolate": "monotone", "color": {"gradient": "linear", "x1": 0, "y1": 0, "x2": 0, "y2": 1, "stops": [{"offset": 0, "color": "#eea5a5"}, {"offset": 1, "color": "#6e5858"}]}},
         "encoding": {"y": {"field": "Mean", "type": "quantitative", "scale": {"domain": [-20, 20.4], "nice": false, "zero": false},
           "axis": {"values": [-20, -10, 0, 10, 20], "tickCount": 20, "format": "d", "title": ["Forward lunge", "Ankle joint angle/°"], "titleFontSize": 8.5, "titleLineHeight": 11, "titlePadding": -3, "grid": true, "gridColor": "#e6e6e6", "gridWidth": 0.6}},
           "y2": {"field": "Mean+PC"}}},
        {"mark": {"type": "area", "interpolate": "monotone", "color": {"gradient": "linear", "x1": 0, "y1": 0, "x2": 0, "y2": 1, "stops": [{"offset": 0, "color": "#b5e3fc"}, {"offset": 1, "color": "#58708a"}]}},
         "encoding": {"y": {"field": "Mean-PC", "type": "quantitative", "scale": {"domain": [-20, 20.4], "nice": false, "zero": false}}, "y2": {"field": "Mean"}}},
        {"transform": [{"fold": ["Mean-PC", "Mean", "Mean+PC"], "as": ["series", "val"]}],
         "mark": {"type": "line", "interpolate": "monotone", "strokeWidth": 0.9},
         "encoding": {"y": {"field": "val", "type": "quantitative", "scale": {"domain": [-20, 20.4], "nice": false, "zero": false}},
           "color": {"field": "series", "type": "nominal", "scale": {"domain": ["Mean-PC", "Mean", "Mean+PC"], "range": ["#5d6ef2", "#666666", "#e26868"]},
             "legend": {"orient": "none", "legendX": 7, "legendY": 1, "direction": "horizontal", "title": null, "symbolType": "stroke", "symbolSize": 121, "symbolStrokeWidth": 1, "labelFont": "Liberation Serif", "labelFontSize": 6.5, "labelOffset": 2, "columnPadding": 3}}}},
        {"mark": {"type": "rule", "strokeDash": [3, 2], "color": "#333333", "strokeWidth": 0.8}, "encoding": {"x": {"datum": 50}}}
      ]
    },
    {
      "width": 136, "height": 97,
      "data": {"name": "scores"},
      "layer": [
        {"transform": [{"filter": "datum.p == 'b5'"}],
         "mark": {"type": "boxplot", "extent": 1.5, "size": 38, "outliers": false, "box": {"stroke": "#8c8c8c", "strokeWidth": 1}, "median": {"color": "#333333", "strokeWidth": 1}, "rule": {"color": "#8c8c8c"}, "ticks": {"color": "#8c8c8c", "size": 20}},
         "encoding": {
           "x": {"field": "g", "type": "nominal", "scale": {"domain": ["Before Fatigue", "After Fatigue"], "range": [0, 122], "paddingInner": 0.35, "paddingOuter": 0.19}, "axis": null},
           "y": {"field": "v", "type": "quantitative", "scale": {"domain": [-15.2, 15.2], "nice": false, "zero": false}, "axis": {"values": [-15, -10, -5, 0, 5, 10, 15], "tickCount": 20, "format": "d", "title": "PC Score", "titleFontSize": 9, "titlePadding": 0, "labelFontSize": 6.5, "grid": false}},
           "color": {"field": "g", "type": "nominal", "scale": {"domain": ["Before Fatigue", "After Fatigue"], "range": ["#63b1f3", "#f6f16c"]},
             "legend": {"orient": "none", "legendX": 94, "legendY": -9.5, "title": null, "symbolType": "M-1,-0.5H1V0.5H-1Z", "symbolSize": 121, "symbolStrokeColor": "#444444", "symbolStrokeWidth": 0.6, "symbolOpacity": 1, "labelFont": "Liberation Serif", "labelFontSize": 6.2, "labelFontWeight": "bold", "labelOffset": 2, "rowPadding": 1}}}},
        {"transform": [{"filter": "datum.p == 'b5'"}],
         "mark": {"type": "point", "filled": true, "size": 5, "color": "#1a1a1a", "opacity": 1},
         "encoding": {"x": {"field": "g", "type": "nominal"}, "xOffset": {"field": "s", "type": "nominal", "scale": {"type": "point", "padding": 10.7}},
           "y": {"field": "v", "type": "quantitative", "scale": {"domain": [-15.2, 15.2], "nice": false, "zero": false}}}}
      ]
    },
    {
      "width": 121, "height": 97,
      "data": {"name": "F"},
      "title": {"text": "PC2  (10.2% of variance)"},
      "view": {"stroke": "#d9d9d9", "strokeWidth": 0.6},
      "encoding": {"x": {"field": "x", "type": "quantitative", "scale": {"domain": [0, 100], "nice": false, "zero": false},
        "axis": {"values": [0, 20, 40, 60, 80, 100], "tickCount": 20, "labelExpr": "datum.value + '%'", "title": "0-100% of movement cycle", "titleFontSize": 7.5, "grid": true, "gridColor": "#e6e6e6", "gridWidth": 0.6}}},
      "layer": [
        {"mark": {"type": "area", "interpolate": "monotone", "color": {"gradient": "linear", "x1": 0, "y1": 0, "x2": 0, "y2": 1, "stops": [{"offset": 0, "color": "#eea5a5"}, {"offset": 1, "color": "#6e5858"}]}},
         "encoding": {"y": {"field": "Mean", "type": "quantitative", "scale": {"domain": [-17.2, 12.9], "nice": false, "zero": false},
           "axis": {"values": [-15, -10, -5, 0, 5, 10], "tickCount": 20, "format": "d", "title": ["45° Forward lunge", "Ankle joint angle/°"], "titleFontSize": 8.5, "titleLineHeight": 11, "titlePadding": -3, "grid": true, "gridColor": "#e6e6e6", "gridWidth": 0.6}},
           "y2": {"field": "Mean+PC"}}},
        {"mark": {"type": "area", "interpolate": "monotone", "color": {"gradient": "linear", "x1": 0, "y1": 0, "x2": 0, "y2": 1, "stops": [{"offset": 0, "color": "#b5e3fc"}, {"offset": 1, "color": "#58708a"}]}},
         "encoding": {"y": {"field": "Mean-PC", "type": "quantitative", "scale": {"domain": [-17.2, 12.9], "nice": false, "zero": false}}, "y2": {"field": "Mean"}}},
        {"transform": [{"fold": ["Mean-PC", "Mean", "Mean+PC"], "as": ["series", "val"]}],
         "mark": {"type": "line", "interpolate": "monotone", "strokeWidth": 0.9},
         "encoding": {"y": {"field": "val", "type": "quantitative", "scale": {"domain": [-17.2, 12.9], "nice": false, "zero": false}},
           "color": {"field": "series", "type": "nominal", "scale": {"domain": ["Mean-PC", "Mean", "Mean+PC"], "range": ["#5d6ef2", "#666666", "#e26868"]},
             "legend": {"orient": "none", "legendX": 7, "legendY": 1, "direction": "horizontal", "title": null, "symbolType": "stroke", "symbolSize": 121, "symbolStrokeWidth": 1, "labelFont": "Liberation Serif", "labelFontSize": 6.5, "labelOffset": 2, "columnPadding": 3}}}},
        {"mark": {"type": "rule", "strokeDash": [3, 2], "color": "#333333", "strokeWidth": 0.8}, "encoding": {"x": {"datum": 50}}}
      ]
    },
    {
      "width": 136, "height": 97,
      "data": {"name": "scores"},
      "layer": [
        {"transform": [{"filter": "datum.p == 'b6'"}],
         "mark": {"type": "boxplot", "extent": 1.5, "size": 38, "outliers": false, "box": {"stroke": "#8c8c8c", "strokeWidth": 1}, "median": {"color": "#333333", "strokeWidth": 1}, "rule": {"color": "#8c8c8c"}, "ticks": {"color": "#8c8c8c", "size": 20}},
         "encoding": {
           "x": {"field": "g", "type": "nominal", "scale": {"domain": ["Before Fatigue", "After Fatigue"], "range": [0, 122], "paddingInner": 0.35, "paddingOuter": 0.19}, "axis": null},
           "y": {"field": "v", "type": "quantitative", "scale": {"domain": [-4.95, 5.05], "nice": false, "zero": false}, "axis": {"values": [-4, -2, 0, 2, 4], "tickCount": 20, "format": "d", "title": "PC Score", "titleFontSize": 9, "titlePadding": 0, "labelFontSize": 6.5, "grid": false}},
           "color": {"field": "g", "type": "nominal", "scale": {"domain": ["Before Fatigue", "After Fatigue"], "range": ["#63b1f3", "#f6f16c"]},
             "legend": {"orient": "none", "legendX": 97, "legendY": -9.5, "title": null, "symbolType": "M-1,-0.5H1V0.5H-1Z", "symbolSize": 121, "symbolStrokeColor": "#444444", "symbolStrokeWidth": 0.6, "symbolOpacity": 1, "labelFont": "Liberation Serif", "labelFontSize": 6.2, "labelFontWeight": "bold", "labelOffset": 2, "rowPadding": 1}}}},
        {"transform": [{"filter": "datum.p == 'b6'"}],
         "mark": {"type": "point", "filled": true, "size": 5, "color": "#1a1a1a", "opacity": 1},
         "encoding": {"x": {"field": "g", "type": "nominal"}, "xOffset": {"field": "s", "type": "nominal", "scale": {"type": "point", "padding": 10.7}},
           "y": {"field": "v", "type": "quantitative", "scale": {"domain": [-4.95, 5.05], "nice": false, "zero": false}}}}
      ]
    }
  ]
}
